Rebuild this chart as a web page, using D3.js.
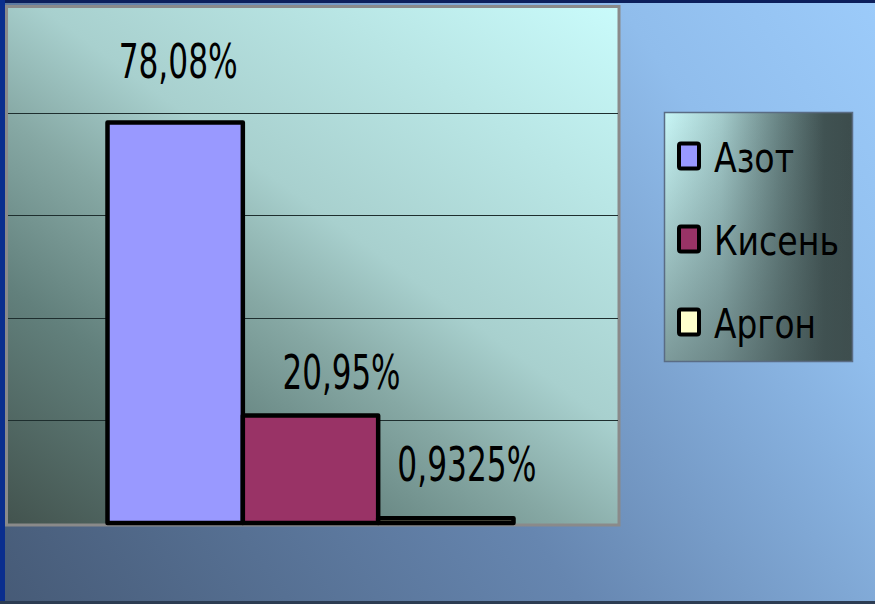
<!DOCTYPE html>
<html>
<head>
<meta charset="utf-8">
<script src="https://cdn.jsdelivr.net/npm/d3@7"></script>
<style>
  html, body { margin: 0; padding: 0; background: #4a6080; }
  svg { display: block; }
</style>
</head>
<body>
<script>
// ---- data ----
const seriesNames = ["Азот", "Кисень", "Аргон"];
const seriesValues = [78.08, 20.95, 0.9325];
const valueLabels = ["78,08%", "20,95%", "0,9325%"];
const seriesColors = ["#9999ff", "#993366", "#ffffcc"];
const gridTicks = [20, 40, 60, 80];

// ---- layout (not data) ----
const W = 875, H = 604;
const plot = { x0: 6, x1: 615, y0: 10, y1: 523 };
const labelDx = [3, 31, 21];
const labelDy = [-44, -27, -37];
const labelWidths = [119, 118, 139];
const legendWidths = [80, 125, 102];

const svg = d3.select("body").append("svg").attr("width", W).attr("height", H);
const defs = svg.append("defs");

// background gradient
const bg = defs.append("linearGradient").attr("id", "bg")
  .attr("gradientUnits", "userSpaceOnUse")
  .attr("x1", 0).attr("y1", H).attr("x2", W).attr("y2", 0);
bg.append("stop").attr("offset", 0).attr("stop-color", "#465a76");
bg.append("stop").attr("offset", 0.45).attr("stop-color", "#6686b0");
bg.append("stop").attr("offset", 0.8).attr("stop-color", "#90bdec");
bg.append("stop").attr("offset", 1).attr("stop-color", "#9ccbfa");

// plot gradient
const pg = defs.append("linearGradient").attr("id", "pg")
  .attr("gradientUnits", "userSpaceOnUse")
  .attr("x1", 0).attr("y1", 525).attr("x2", 465).attr("y2", -113);
pg.append("stop").attr("offset", 0).attr("stop-color", "#42524d");
pg.append("stop").attr("offset", 0.25).attr("stop-color", "#62807c");
pg.append("stop").attr("offset", 0.42).attr("stop-color", "#86a8a4");
pg.append("stop").attr("offset", 0.56).attr("stop-color", "#a8d0ce");
pg.append("stop").attr("offset", 1).attr("stop-color", "#cafcfc");

// legend gradients
const lg = defs.append("linearGradient").attr("id", "lg")
  .attr("x1", 0).attr("y1", 0).attr("x2", 1).attr("y2", 0);
lg.append("stop").attr("offset", 0).attr("stop-color", "#c8f6f6");
lg.append("stop").attr("offset", 0.3).attr("stop-color", "#a4cccc");
lg.append("stop").attr("offset", 0.6).attr("stop-color", "#6a8686");
lg.append("stop").attr("offset", 0.85).attr("stop-color", "#405252");
lg.append("stop").attr("offset", 1).attr("stop-color", "#3c4c4c");
const lg2 = defs.append("linearGradient").attr("id", "lg2")
  .attr("x1", 0).attr("y1", 0).attr("x2", 0).attr("y2", 1);
lg2.append("stop").attr("offset", 0).attr("stop-color", "#405050").attr("stop-opacity", 0);
lg2.append("stop").attr("offset", 1).attr("stop-color", "#405050").attr("stop-opacity", 0.55);

// background
svg.append("rect").attr("width", W).attr("height", H).attr("fill", "url(#bg)");
// frame strips
svg.append("rect").attr("x", 0).attr("y", 0).attr("width", W).attr("height", 3).attr("fill", "#0c1f5c");
svg.append("rect").attr("x", 0).attr("y", 0).attr("width", 5).attr("height", H).attr("fill", "#0a2e8e");
svg.append("rect").attr("x", 0).attr("y", H - 3).attr("width", W).attr("height", 3).attr("fill", "#2c3c52");

// plot area
svg.append("rect")
  .attr("x", 6.5).attr("y", 6.5).attr("width", 612.5).attr("height", 518.5)
  .attr("fill", "url(#pg)").attr("stroke", "#8a8a8a").attr("stroke-width", 3);

// scales
const x = d3.scaleBand().domain(seriesNames).range([plot.x0, plot.x1])
  .paddingInner(0).paddingOuter(0.75);
const y = d3.scaleLinear().domain([0, 100]).range([plot.y1, plot.y0]);

// gridlines
svg.append("g").selectAll("line").data(gridTicks).join("line")
  .attr("x1", 8).attr("x2", 618)
  .attr("y1", d => Math.round(y(d)) + 0.5).attr("y2", d => Math.round(y(d)) + 0.5)
  .attr("stroke", "#1e2e2e").attr("stroke-width", 1);

// bars
svg.append("g").selectAll("rect").data(seriesValues).join("rect")
  .attr("x", (d, i) => x(seriesNames[i]))
  .attr("y", d => y(d))
  .attr("width", x.bandwidth())
  .attr("height", d => y(0) - y(d))
  .attr("fill", (d, i) => seriesColors[i])
  .attr("stroke", "#000").attr("stroke-width", 4.5)
  .attr("stroke-linejoin", "round");

const font = "'Liberation Sans Narrow', 'Arial Narrow', 'DejaVu Sans Condensed', 'Liberation Sans', sans-serif";

// value labels
svg.append("g").selectAll("text").data(seriesValues).join("text")
  .attr("x", (d, i) => x(seriesNames[i]) + x.bandwidth() / 2 + labelDx[i])
  .attr("y", (d, i) => y(d) + labelDy[i])
  .attr("text-anchor", "middle")
  .attr("font-family", font).attr("font-size", 48)
  .attr("textLength", (d, i) => labelWidths[i])
  .attr("lengthAdjust", "spacingAndGlyphs")
  .attr("fill", "#000")
  .text((d, i) => valueLabels[i]);

// legend
const leg = svg.append("g");
leg.append("rect").attr("x", 664.5).attr("y", 112.5).attr("width", 188).attr("height", 249)
  .attr("fill", "url(#lg)");
leg.append("rect").attr("x", 664.5).attr("y", 112.5).attr("width", 188).attr("height", 249)
  .attr("fill", "url(#lg2)").attr("stroke", "#5a6c84").attr("stroke-width", 1.5);

const legY = d3.scalePoint().domain(seriesNames).range([156, 322]);
const items = leg.selectAll("g.item").data(seriesNames).join("g").attr("class", "item");
items.append("rect")
  .attr("x", 679).attr("y", d => legY(d) - 12.5)
  .attr("width", 20).attr("height", 25)
  .attr("rx", 2)
  .attr("fill", (d, i) => seriesColors[i])
  .attr("stroke", "#000").attr("stroke-width", 4);
items.append("text")
  .attr("x", 714).attr("y", d => legY(d) + 16)
  .attr("font-family", font).attr("font-size", 41)
  .attr("textLength", (d, i) => legendWidths[i])
  .attr("lengthAdjust", "spacingAndGlyphs")
  .attr("fill", "#000")
  .text(d => d);
</script>
</body>
</html>
